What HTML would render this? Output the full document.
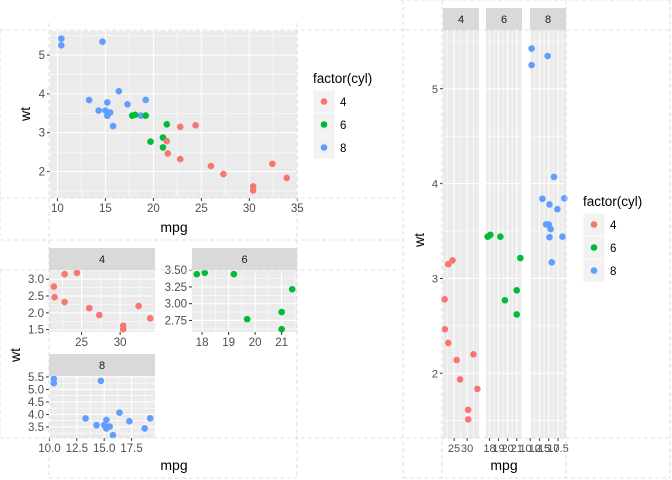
<!DOCTYPE html>
<html><head><meta charset="utf-8"><style>
html,body{margin:0;padding:0;background:#fff;}
svg{display:block;font-family:"Liberation Sans",Arial,sans-serif;}
</style></head><body>
<svg id="c" width="672" height="480" viewBox="0 0 672 480" xmlns="http://www.w3.org/2000/svg"></svg>
<script>
const mpg=[21.0,21.0,22.8,21.4,18.7,18.1,14.3,24.4,22.8,19.2,17.8,16.4,17.3,15.2,10.4,10.4,14.7,32.4,30.4,33.9,21.5,15.5,15.2,13.3,19.2,27.3,26.0,30.4,15.8,19.7,15.0,21.4];
const wt=[2.620,2.875,2.320,3.215,3.440,3.460,3.570,3.190,3.150,3.440,3.440,4.070,3.730,3.780,5.250,5.424,5.345,2.200,1.615,1.835,2.465,3.520,3.435,3.840,3.845,1.935,2.140,1.513,3.170,2.770,3.570,2.780];
const cyl=[6,6,4,6,8,6,8,4,4,6,6,8,8,8,8,8,8,4,4,4,4,8,8,8,8,4,4,4,8,6,8,4];
const cylLevels=[4,6,8];
const mainXTicks=[10,15,20,25,30,35];
const mainYTicks=[2,3,4,5];
const f4XTicks=[25,30], f4YTicks=[1.5,2.0,2.5,3.0];
const f6XTicks=[18,19,20,21], f6YTicks=[2.75,3.00,3.25,3.50];
const f8XTicks=[10.0,12.5,15.0,17.5], f8YTicks=[3.5,4.0,4.5,5.0,5.5];
const gridXTicks={4:[25,30],6:[18,19,20,21],8:[10.0,12.5,15.0,17.5]};
const gridXLabels={4:["25","30"],6:["18","19","20","21"],8:["10.0","12.5","15.0","17.5"]};
const colors={4:"#F8766D",6:"#00BA38",8:"#619CFF"};

const svg=document.getElementById('c');
const NS="http://www.w3.org/2000/svg";
function el(tag,attrs,parent){const e=document.createElementNS(NS,tag);for(const k in attrs)e.setAttribute(k,attrs[k]);(parent||svg).appendChild(e);return e;}
function txt(s,attrs,parent){const e=el('text',attrs,parent);e.textContent=s;return e;}
function ext(vals){const mn=Math.min(...vals),mx=Math.max(...vals),p=(mx-mn)*0.05;return [mn-p,mx+p];}
function minors(t,dom){const st=t[1]-t[0];const out=[];for(let i=-1;i<t.length;i++){const v=t[0]+st*(i+0.5);if(v>dom[0]&&v<dom[1])out.push(v);}return out;}
function fmt(v,d){return v.toFixed(d);}

function panel(name,x0,y0,w,h,xdom,ydom,xt,yt,idx,opt){
  const g=el('g',{},svg);
  
  
  const sx=v=>x0+(v-xdom[0])/(xdom[1]-xdom[0])*w;
  const sy=v=>y0+h-(v-ydom[0])/(ydom[1]-ydom[0])*h;
  const bg=el('rect',{x:x0,y:y0,width:w,height:h,fill:'#EBEBEB'},g);
  
  
  minors(xt,xdom).forEach(v=>el('line',{x1:sx(v),x2:sx(v),y1:y0,y2:y0+h,stroke:'#fff','stroke-width':0.55},g));
  minors(yt,ydom).forEach(v=>el('line',{x1:x0,x2:x0+w,y1:sy(v),y2:sy(v),stroke:'#fff','stroke-width':0.55},g));
  xt.forEach(v=>{if(v>=xdom[0]&&v<=xdom[1])el('line',{x1:sx(v),x2:sx(v),y1:y0,y2:y0+h,stroke:'#fff','stroke-width':1.1},g);});
  yt.forEach(v=>el('line',{x1:x0,x2:x0+w,y1:sy(v),y2:sy(v),stroke:'#fff','stroke-width':1.1},g));
  idx.forEach(i=>{
    const c=el('circle',{cx:sx(mpg[i]),cy:sy(wt[i]),r:3.3,fill:colors[cyl[i]]},g);
    
    
  });
  if(opt.xlab!==false){
    xt.forEach((v,k)=>{if(v<xdom[0]-1e-9||v>xdom[1]+1e-9)return;
      el('line',{x1:sx(v),x2:sx(v),y1:y0+h,y2:y0+h+3,stroke:'#333','stroke-width':1},g);
      const t=txt(opt.xl?opt.xl[k]:fmt(v,opt.xd||0),{x:sx(v),y:y0+h+14,'font-size':opt.fs||11.5,fill:'#4D4D4D','text-anchor':'middle'},g);
      
      
    });
  }
  if(opt.ylab!==false){
    yt.forEach(v=>{
      el('line',{x1:x0-3,x2:x0,y1:sy(v),y2:sy(v),stroke:'#333','stroke-width':1},g);
      const t=txt(fmt(v,opt.yd||0),{x:x0-5,y:sy(v)+4,'font-size':opt.fs||11.5,fill:'#4D4D4D','text-anchor':'end'},g);
      
      
    });
  }
  if(opt.strip){
    const s=el('rect',{x:x0,y:y0-22,width:w,height:22,fill:'#D9D9D9'},g);
    
    
    const t=txt(opt.strip,{x:x0+w/2,y:y0-7,'font-size':11,fill:'#1A1A1A','text-anchor':'middle'},g);
    
    
  }
}
function legend(x,y){
  const g=el('g',{},svg);
  
  
  txt('factor(cyl)',{x:x,y:y,'font-size':13.5,fill:'#000'},g);
  cylLevels.forEach((c,k)=>{
    const ky=y+7+k*23;
    el('rect',{x:x,y:ky,width:22,height:23,fill:'#F2F2F2',stroke:'#fff','stroke-width':1},g);
    const d=el('circle',{cx:x+11,cy:ky+11.5,r:3.3,fill:colors[c]},g);
    
    
    const t=txt(String(c),{x:x+27,y:ky+16,'font-size':11.5,fill:'#000'},g);
    
    
  });
}
function label(s,x,y,rot,name){
  const t=txt(s,{x:x,y:y,'font-size':14,fill:'#000','text-anchor':'middle',transform:rot?`rotate(-90 ${x} ${y})`:''});
  
  
}
const all=mpg.map((_,i)=>i);
const byCyl=c=>all.filter(i=>cyl[i]===c);
const wtDom=ext(wt);

panel('main-scatter-panel',50,31,248,167,ext(mpg),wtDom,mainXTicks,mainYTicks,all,{});
label('mpg',174,232,false,'x-axis-title');
label('wt',30,114,true,'y-axis-title');
legend(313,83);

const i4=byCyl(4),i6=byCyl(6),i8=byCyl(8);
panel('facet-4-panel',49,270,106,62,ext(i4.map(i=>mpg[i])),ext(i4.map(i=>wt[i])),f4XTicks,f4YTicks,i4,{strip:'4',yd:1});
panel('facet-6-panel',192,270,105,62,ext(i6.map(i=>mpg[i])),ext(i6.map(i=>wt[i])),f6XTicks,f6YTicks,i6,{strip:'6',yd:2});
panel('facet-8-panel',49,376,106,62,ext(i8.map(i=>mpg[i])),ext(i8.map(i=>wt[i])),f8XTicks,f8YTicks,i8,{strip:'8',yd:1,xd:1});
label('mpg',174,470,false,'facet-x-axis-title');
label('wt',20,355,true,'facet-y-axis-title');

const gx=[443,486,530];
cylLevels.forEach((c,k)=>{
  const ii=byCyl(c);
  panel('grid-panel-'+c,gx[k],30,36,408,ext(ii.map(i=>mpg[i])),wtDom,gridXTicks[c],mainYTicks,ii,{strip:String(c),ylab:k===0,xl:gridXLabels[c],fs:11});
});
label('mpg',504,470,false,'grid-x-axis-title');
label('wt',424,240,true,'grid-y-axis-title');
legend(583,206);

const dash={stroke:'#D6D6D6','stroke-width':0.8,'stroke-dasharray':'4,3',fill:'none'};
[[0,30,672,30],[0,198,400,198],[0,240,400,240],[0,270,400,270],[0,438,672,438],[49,478,297,478],[403,478,670,478],
 [49,23,49,478],[297,23,297,478],[0,30,0,240],[0,270,0,438],[403,0,403,478],[442,0,442,478],[566,0,566,478],[670,0,670,478],[400,0,672,0]]
.forEach(l=>el('line',Object.assign({x1:l[0],y1:l[1],x2:l[2],y2:l[3]},dash)));
</script>
</body></html>
